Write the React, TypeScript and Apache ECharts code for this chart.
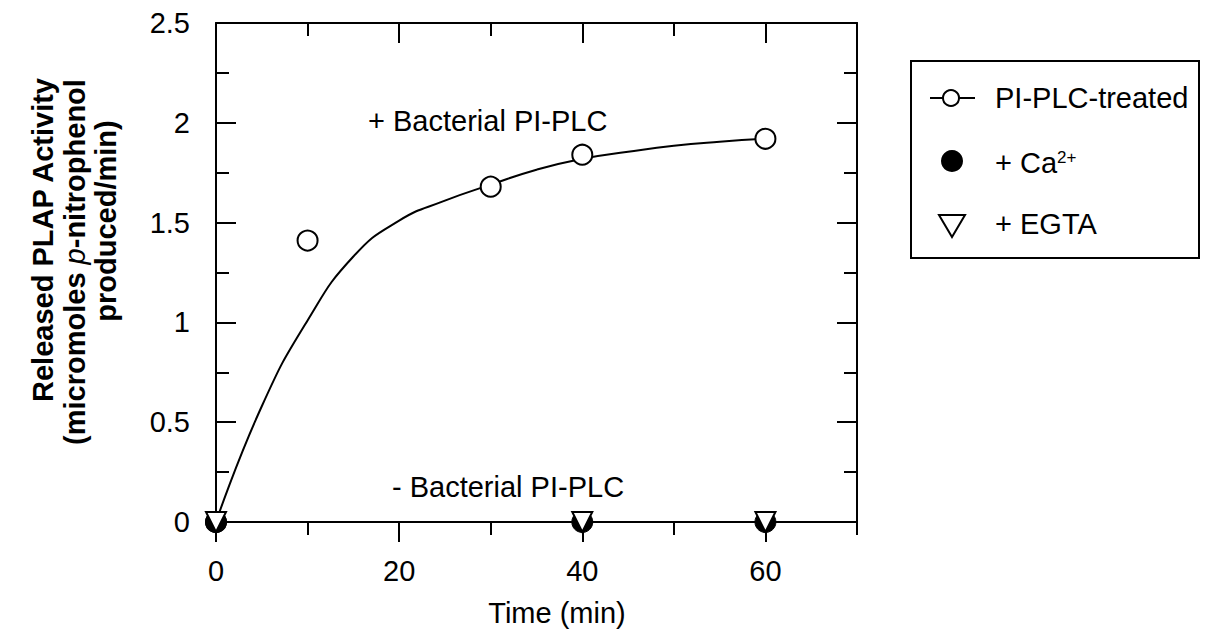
import React, { useEffect, useRef } from "react";
import * as echarts from "echarts";

// ---- data ----
const timeLabels = [0, 20, 40, 60];
const xMinorTicks = [10, 30, 50, 70];
const xTopMinorTicks = [10, 30, 50];
const xTopMajorTicks = [20, 40, 60];
const yMajorTicks = [0.5, 1, 1.5, 2];
const yMinorTicks = [0.25, 0.75, 1.25, 1.75, 2.25];

// smooth fitted curve
const fitCurve: [number, number][] = [
  [0, 0], [5, 0.58], [10, 1.01], [15, 1.33], [20, 1.51], [25, 1.61],
  [30, 1.69], [35, 1.765], [40, 1.82], [45, 1.855], [50, 1.885], [55, 1.905], [60, 1.92],
];
const plcTreated: [number, number][] = [[0, 0], [10, 1.41], [30, 1.68], [40, 1.84], [60, 1.92]];
const caPoints: [number, number][] = [[0, 0], [40, 0], [60, 0]];
const egtaPoints: [number, number][] = [[0, 0], [40, 0], [60, 0]];
const legendNames = ["PI-PLC-treated", "+ Ca", "+ EGTA"];

const FONT = "'Liberation Sans', Arial, Helvetica, sans-serif";
const FS = 29;
const BLACK = "#000";

export default function App() {
  const ref = useRef<HTMLDivElement>(null);
  useEffect(() => {
    if (!ref.current) return;
    const chart = echarts.init(ref.current, null, { renderer: "svg" });
    const grid = { left: 216, top: 23, width: 641, height: 499 };
    const line = { show: true, onZero: false, lineStyle: { color: BLACK, width: 2 } };
    const noLine = { show: false, onZero: false };
    const tick = (vals: number[], len: number, inside: boolean) => ({
      show: true, inside, length: len, customValues: vals,
      lineStyle: { color: BLACK, width: 2 },
    });
    const xBase = { type: "value", min: 0, max: 70, interval: 10, splitLine: { show: false } };
    const yBase = { type: "value", min: 0, max: 2.5, interval: 0.5, splitLine: { show: false } };

    chart.setOption({
      animation: false,
      backgroundColor: "#fff",
      grid,
      xAxis: [
        {
          ...xBase, position: "bottom", axisLine: line,
          axisTick: tick(xMinorTicks, 13, false),
          axisLabel: { show: true, customValues: timeLabels, fontSize: FS, fontFamily: FONT, color: BLACK, margin: 34 },
        },
        { ...xBase, position: "bottom", axisLine: noLine, axisTick: tick(timeLabels, 20, false), axisLabel: { show: false } },
        { ...xBase, position: "top", axisLine: line, axisTick: tick(xTopMinorTicks, 13, true), axisLabel: { show: false } },
        { ...xBase, position: "top", axisLine: noLine, axisTick: tick(xTopMajorTicks, 20, true), axisLabel: { show: false } },
      ],
      yAxis: [
        {
          ...yBase, position: "left", axisLine: line,
          axisTick: tick(yMajorTicks, 20, true),
          axisLabel: { show: true, fontSize: FS, fontFamily: FONT, color: BLACK, margin: 26 },
        },
        { ...yBase, position: "left", axisLine: noLine, axisTick: tick(yMinorTicks, 13, true), axisLabel: { show: false } },
        { ...yBase, position: "right", axisLine: line, axisTick: tick(yMajorTicks, 20, true), axisLabel: { show: false } },
        { ...yBase, position: "right", axisLine: noLine, axisTick: tick(yMinorTicks, 13, true), axisLabel: { show: false } },
      ],
      series: [
        {
          type: "line", data: fitCurve, smooth: 0.5, showSymbol: false, symbol: "none",
          lineStyle: { color: BLACK, width: 2 }, xAxisIndex: 0, yAxisIndex: 0, clip: false,
        },
        {
          name: legendNames[0], type: "scatter", data: plcTreated, symbol: "circle", symbolSize: 20,
          itemStyle: { color: "#fff", borderColor: BLACK, borderWidth: 2, opacity: 1 }, clip: false, z: 3,
        },
        {
          name: legendNames[1], type: "scatter", data: caPoints, symbol: "circle", symbolSize: 21,
          itemStyle: { color: BLACK, borderColor: BLACK, borderWidth: 1, opacity: 1 }, clip: false, z: 4,
        },
        {
          name: legendNames[2], type: "scatter", data: egtaPoints, symbol: "triangle", symbolRotate: 180, symbolSize: 20,
          itemStyle: { color: "#fff", borderColor: BLACK, borderWidth: 2, opacity: 1 }, clip: false, z: 5,
        },
      ],
      graphic: [
        // axis titles
        { type: "text", x: 43, y: 240, rotation: Math.PI / 2,
          style: { text: "Released PLAP Activity", font: `bold ${FS}px ${FONT}`, fill: BLACK, align: "center", verticalAlign: "middle" } },
        { type: "text", x: 75, y: 262, rotation: Math.PI / 2,
          style: {
            text: "{b|(micromoles }{i|p}{b|-nitrophenol}", align: "center", verticalAlign: "middle",
            rich: {
              b: { fontSize: FS, fontWeight: "bold", fontFamily: FONT, fill: BLACK },
              i: { fontSize: FS, fontStyle: "italic", fontFamily: FONT, fill: BLACK },
            },
          } },
        { type: "text", x: 106, y: 221, rotation: Math.PI / 2,
          style: { text: "produced/min)", font: `bold ${FS}px ${FONT}`, fill: BLACK, align: "center", verticalAlign: "middle" } },
        { type: "text", x: 557, y: 613,
          style: { text: "Time (min)", font: `${FS}px ${FONT}`, fill: BLACK, align: "center", verticalAlign: "middle" } },
        // annotations
        { type: "text", x: 368, y: 121,
          style: { text: "+ Bacterial PI-PLC", font: `${FS}px ${FONT}`, fill: BLACK, align: "left", verticalAlign: "middle" } },
        { type: "text", x: 392, y: 487,
          style: { text: "- Bacterial PI-PLC", font: `${FS}px ${FONT}`, fill: BLACK, align: "left", verticalAlign: "middle" } },
        // legend box
        { type: "rect", shape: { x: 911, y: 61, width: 288, height: 197 },
          style: { fill: "#fff", stroke: BLACK, lineWidth: 2 } },
        { type: "line", shape: { x1: 930, y1: 98, x2: 975, y2: 98 }, style: { stroke: BLACK, lineWidth: 2 } },
        { type: "circle", shape: { cx: 951, cy: 98, r: 8 }, style: { fill: "#fff", stroke: BLACK, lineWidth: 2 } },
        { type: "text", x: 995, y: 98,
          style: { text: legendNames[0], font: `${FS}px ${FONT}`, fill: BLACK, align: "left", verticalAlign: "middle" } },
        { type: "circle", shape: { cx: 952, cy: 161, r: 11 }, style: { fill: BLACK } },
        { type: "text", x: 995, y: 163,
          style: { text: legendNames[1], font: `${FS}px ${FONT}`, fill: BLACK, align: "left", verticalAlign: "middle" } },
        { type: "text", x: 1057, y: 149,
          style: { text: "2+", font: `17px ${FONT}`, fill: BLACK, align: "left", verticalAlign: "top" } },
        { type: "polygon", shape: { points: [[939, 215], [965, 215], [952, 237]] },
          style: { fill: "#fff", stroke: BLACK, lineWidth: 2 } },
        { type: "text", x: 995, y: 224,
          style: { text: legendNames[2], font: `${FS}px ${FONT}`, fill: BLACK, align: "left", verticalAlign: "middle" } },
      ],
    });
    return () => chart.dispose();
  }, []);
  return (
    <div
      ref={ref}
      style={{ position: "fixed", left: 0, top: 0, width: 1207, height: 636, background: "#fff" }}
    />
  );
}
